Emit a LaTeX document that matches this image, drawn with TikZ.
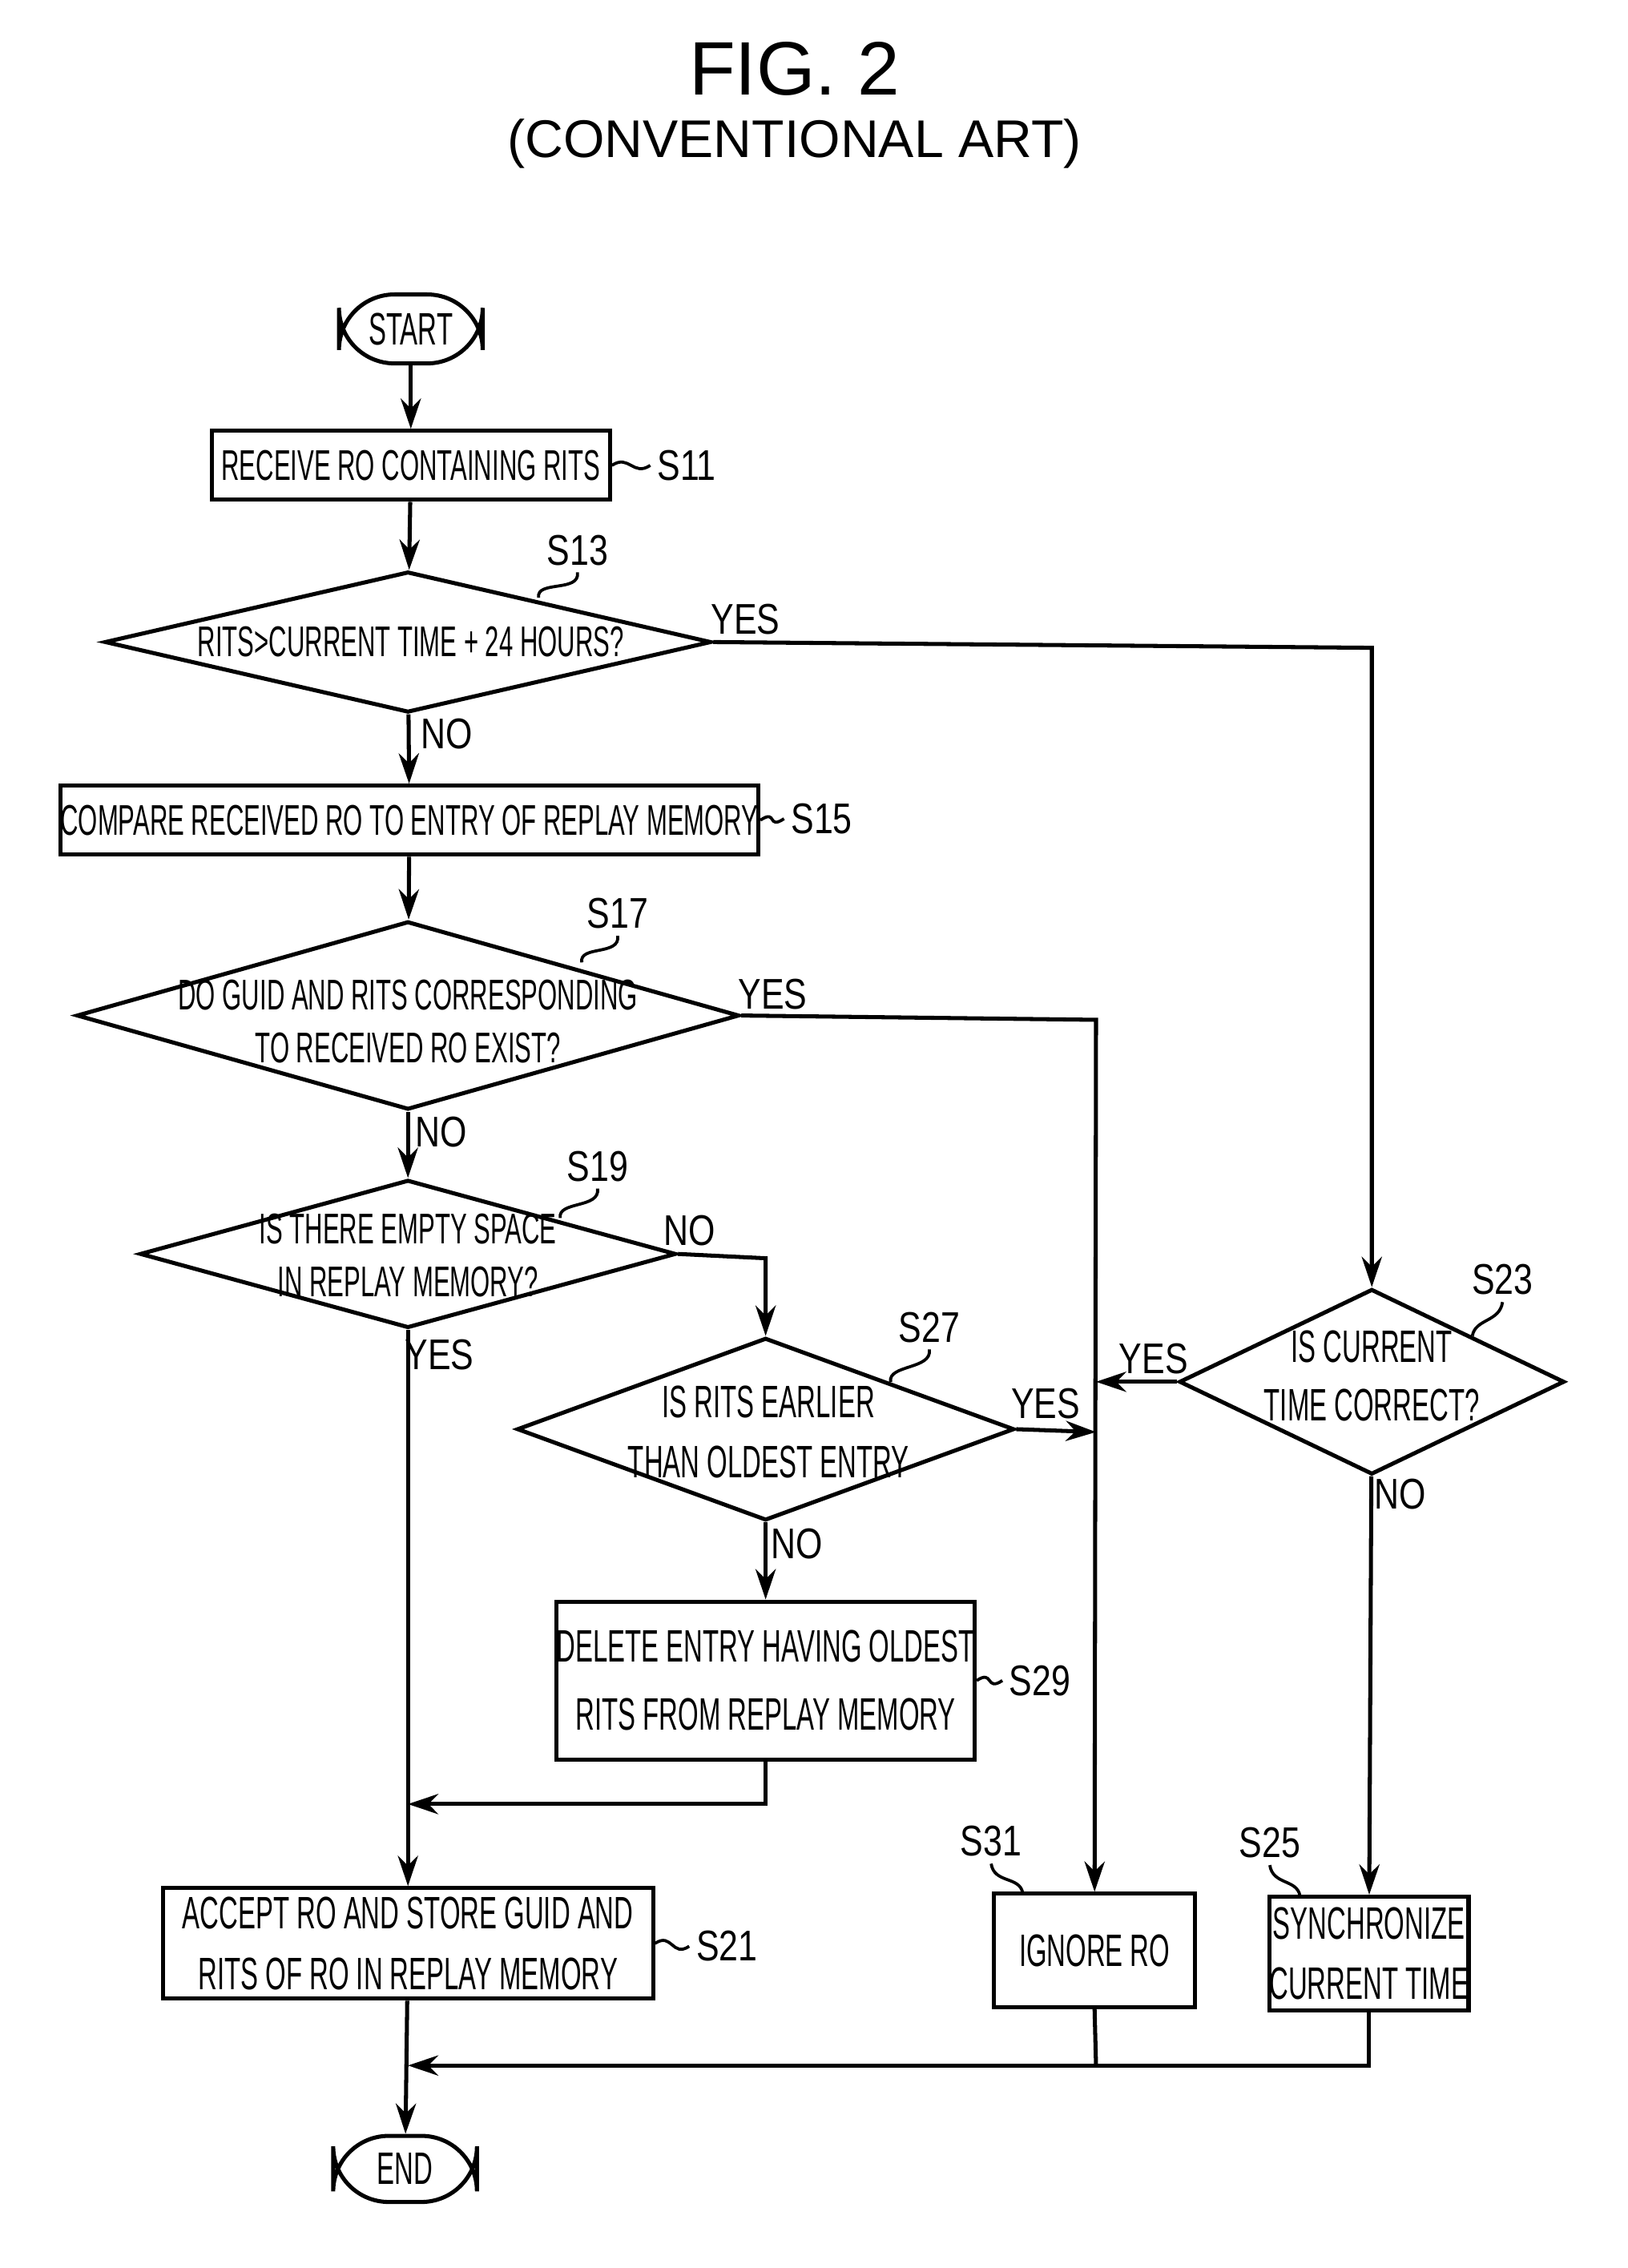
\documentclass[tikz,border=0pt]{standalone}
\usepackage{fontspec}
\setmainfont{Liberation Sans}
\newfontfamily\cond[FakeStretch=0.58]{Liberation Sans}
\newfontfamily\lab[FakeStretch=0.8]{Liberation Sans}
\usetikzlibrary{shapes.geometric,arrows.meta}
\begin{document}
\begin{tikzpicture}[x=0.01cm,y=-0.01cm,line width=0.8pt,
  box/.style={draw,rectangle,inner sep=0pt,font=\cond\fontsize{8.5}{11}\selectfont,align=center},
  term/.style={draw,rounded corners=11pt,inner sep=0pt,font=\cond\fontsize{9}{11}\selectfont},
  dia/.style={draw,diamond,inner sep=0pt},
  txt/.style={font=\cond\fontsize{8.5}{10.5}\selectfont,align=center,inner sep=0pt},
  sl/.style={font=\lab\fontsize{8.5}{10}\selectfont,inner sep=1pt},
  arr/.style={-{Stealth[length=6pt,width=4pt]}}]
\useasboundingbox (0,0) rectangle (1133,1579);
\node[font=\fontsize{15}{18}\selectfont] (t1) at (553,48) {FIG. 2};
\node[font=\fontsize{10.5}{13}\selectfont] (t2) at (553,100) {(CONVENTIONAL ART)};
% nodes
\node[term,minimum width=1cm,minimum height=0.48cm] (start) at (286,229) {START};
\node[box,minimum width=2.77cm,minimum height=0.48cm] (s11) at (286,324) {RECEIVE RO CONTAINING RITS};
\node[dia,minimum width=4.22cm,minimum height=0.98cm] (s13) at (284,447) {};
\node[txt] (s13t) at (286,447) {RITS>CURRENT TIME + 24 HOURS?};
\node[box,minimum width=4.64cm,minimum height=0.48cm] (s15) at (285,571) {COMPARE RECEIVED RO TO ENTRY OF REPLAY MEMORY};
\node[dia,minimum width=4.61cm,minimum height=1.31cm] (s17) at (284,707) {};
\node[txt] (s17t) at (284,711) {DO GUID AND RITS CORRESPONDING\\TO RECEIVED RO EXIST?};
\node[dia,minimum width=3.73cm,minimum height=1.03cm] (s19) at (284,873) {};
\node[txt] (s19t) at (284,874) {IS THERE EMPTY SPACE\\IN REPLAY MEMORY?};
\node[dia,minimum width=3.46cm,minimum height=1.27cm] (s27) at (533,995) {};
\node[txt,font=\cond\fontsize{9}{12}\selectfont] (s27t) at (535,997) {IS RITS EARLIER\\THAN OLDEST ENTRY};
\node[box,minimum width=2.72cm,minimum height=1.10cm,font=\cond\fontsize{9}{13.5}\selectfont] (s29) at (533,1170) {DELETE ENTRY HAVING OLDEST\\RITS FROM REPLAY MEMORY};
\node[dia,minimum width=2.68cm,minimum height=1.29cm] (s23) at (955,962) {};
\node[txt,font=\cond\fontsize{9}{11.5}\selectfont] (s23t) at (955,958) {IS CURRENT\\TIME CORRECT?};
\node[box,minimum width=3.41cm,minimum height=0.77cm,font=\cond\fontsize{9}{12}\selectfont] (s21) at (284,1353) {ACCEPT RO AND STORE GUID AND\\RITS OF RO IN REPLAY MEMORY};
\node[box,minimum width=1.40cm,minimum height=0.79cm,font=\cond\fontsize{9}{11}\selectfont] (s31) at (762,1358) {IGNORE RO};
\node[box,minimum width=1.36cm,minimum height=0.79cm,font=\cond\fontsize{9}{12}\selectfont] (s25) at (953,1360) {SYNCHRONIZE\\CURRENT TIME};
\node[term,minimum width=1cm,minimum height=0.46cm] (end) at (282,1510) {END};
% step labels
\node[sl] (l11) at (478,324) {S11};
\node[sl] (l13) at (402,383) {S13};
\node[sl] (l15) at (572,570) {S15};
\node[sl] (l17) at (430,636) {S17};
\node[sl] (l19) at (416,812) {S19};
\node[sl] (l27) at (647,924) {S27};
\node[sl] (l29) at (724,1170) {S29};
\node[sl] (l23) at (1046,891) {S23};
\node[sl] (l21) at (506,1355) {S21};
\node[sl] (l31) at (690,1282) {S31};
\node[sl] (l25) at (884,1283) {S25};
\tikzset{sq/.style={line width=0.6pt}}
\draw[sq] (s11.east) .. controls +(12,-8) and +(-12,8) .. (l11.west);
\draw[sq] (s15.east) .. controls +(12,-8) and +(-12,8) .. (l15.west);
\draw[sq] (s29.east) .. controls +(12,-8) and +(-12,8) .. (l29.west);
\draw[sq] (s21.east) .. controls +(12,-8) and +(-12,8) .. (l21.west);
\draw[sq] (l13.south) .. controls +(2,14) and +(-2,-12) .. (375,416);
\draw[sq] (l17.south) .. controls +(2,14) and +(-2,-12) .. (405,670);
\draw[sq] (l19.south) .. controls +(2,14) and +(-2,-12) .. (390,848);
\draw[sq] (l27.south) .. controls +(2,14) and +(-2,-12) .. (620,962);
\draw[sq] (l23.south) .. controls +(-2,14) and +(2,-12) .. (1025,930);
\draw[sq] (l31.south) .. controls +(2,14) and +(-2,-12) .. (712,1318);
\draw[sq] (l25.south) .. controls +(2,14) and +(-2,-12) .. (905,1320);
% connectors
\coordinate (c13) at (955,451);
\coordinate (c17) at (763,710);
\coordinate (c19) at (533,876);
\coordinate (c29a) at (533,1256);
\coordinate (c29b) at (284,1256);
\coordinate (m1) at (763,1438);
\coordinate (m2) at (953,1438);
\coordinate (m3) at (284,1438);
\coordinate (j27) at (763,997);
\coordinate (j23) at (763,962);
\draw[arr] (start) -- (s11);
\draw[arr] (s11) -- (s13);
\draw[arr] (s13) -- (s15);
\draw[arr] (s15) -- (s17);
\draw[arr] (s17) -- (s19);
\draw[arr] (s19) -- (s21);
\draw[arr] (s13.east) -- (c13) -- (s23.north);
\draw[arr] (s17.east) -- (c17) -- (s31.north);
\draw[arr] (s19.east) -- (c19) -- (s27.north);
\draw[arr] (s27.east) -- (j27);
\draw[arr] (s23.west) -- (j23);
\draw[arr] (s27) -- (s29);
\draw[arr] (s29.south) -- (c29a) -- (c29b);
\draw[arr] (s23) -- (s25);
\draw (s31.south) -- (m1);
\draw[arr] (s25.south) -- (m2) -- (m3);
\draw[arr] (s21) -- (end);
% yes/no
\node[sl] (y13) at (519,431) {YES};
\node[sl] (n13) at (311,511) {NO};
\node[sl] (y17) at (538,692) {YES};
\node[sl] (n17) at (307,788) {NO};
\node[sl] (n19) at (480,857) {NO};
\node[sl] (y19) at (306,943) {YES};
\node[sl] (y27) at (728,977) {YES};
\node[sl] (n27) at (555,1075) {NO};
\node[sl] (y23) at (803,946) {YES};
\node[sl] (n23) at (975,1040) {NO};
\end{tikzpicture}
\end{document}
